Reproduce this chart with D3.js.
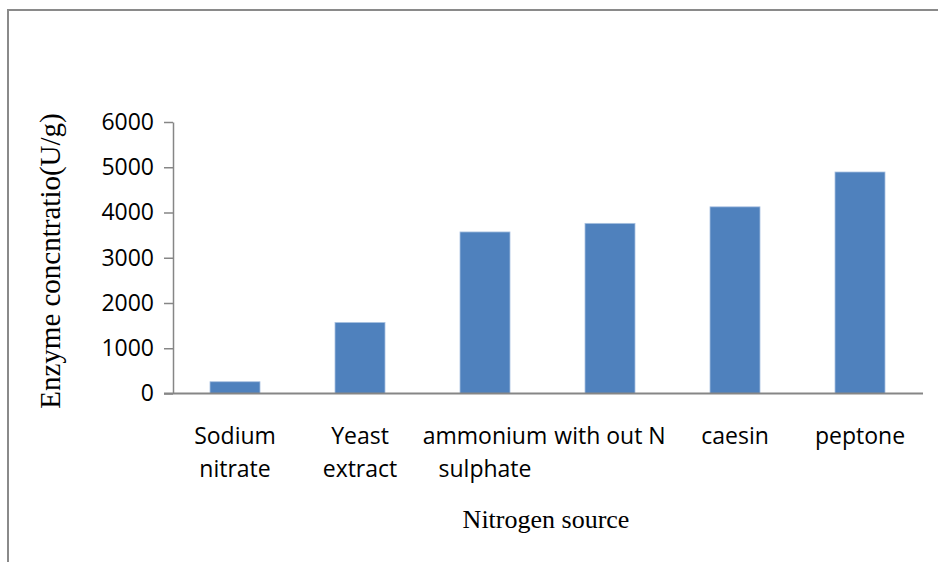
<!DOCTYPE html>
<html>
<head>
<meta charset="utf-8">
<script src="https://cdn.jsdelivr.net/npm/d3@7"></script>
<style>
  body { margin: 0; background: #fff; }
  svg { display: block; }
</style>
</head>
<body>
<svg id="chart" width="938" height="562"></svg>
<script>
// data
var categories = [['Sodium', 'nitrate'], ['Yeast', 'extract'], ['ammonium', 'sulphate'], ['with out N'], ['caesin'], ['peptone']];
var values = [260, 1570, 3570, 3760, 4125, 4895];
var yTicks = [0, 1000, 2000, 3000, 4000, 5000, 6000];

var svg = d3.select('#chart');

// outer frame (top and left edges visible)
svg.append('path')
  .attr('d', 'M8,562 V10 H938')
  .attr('fill', 'none')
  .attr('stroke', '#8a8a8a')
  .attr('stroke-width', 2);

var x = d3.scaleBand()
  .domain(d3.range(categories.length))
  .range([172.5, 922.5])
  .paddingInner(0.6)
  .paddingOuter(0.3);

var y = d3.scaleLinear()
  .domain([0, 6000])
  .range([393.5, 122]);

// y axis
var yAxis = svg.append('g')
  .attr('transform', 'translate(173,0)')
  .call(d3.axisLeft(y).tickValues(yTicks).tickFormat(d3.format('d'))
    .tickSize(9).tickPadding(10).tickSizeOuter(0));
yAxis.select('.domain').attr('stroke', '#868686').attr('stroke-width', 1.5);
yAxis.selectAll('.tick line').attr('stroke', '#868686').attr('stroke-width', 1.5);
yAxis.selectAll('.tick text')
  .attr('fill', '#000')
  .style('font-family', '"Open Sans", sans-serif')
  .style('font-size', '23px');

// bars
svg.selectAll('.bar')
  .data(values)
  .enter().append('rect')
  .attr('class', 'bar')
  .attr('x', function(d, i) { return x(i); })
  .attr('y', function(d) { return y(d); })
  .attr('width', x.bandwidth())
  .attr('height', function(d) { return y(0) - y(d); })
  .attr('fill', '#4f81bd')
  .attr('stroke', '#a9c1e0')
  .attr('stroke-width', 0.8);

// x axis line
svg.append('line')
  .attr('x1', 164).attr('x2', 923)
  .attr('y1', y(0)).attr('y2', y(0))
  .attr('stroke', '#868686')
  .attr('stroke-width', 2);

// category labels
var labels = svg.selectAll('.cat')
  .data(categories)
  .enter().append('text')
  .attr('class', 'cat')
  .attr('text-anchor', 'middle')
  .style('font-family', '"Open Sans", sans-serif')
  .style('font-size', '23px')
  .attr('fill', '#000');
labels.selectAll('tspan')
  .data(function(d, i) { return d.map(function(t) { return {t: t, i: i}; }); })
  .enter().append('tspan')
  .attr('x', function(d) { return x(d.i) + x.bandwidth() / 2; })
  .attr('y', function(d, j) { return 444 + j * 33; })
  .text(function(d) { return d.t; });

// axis titles
svg.append('text')
  .attr('x', 546).attr('y', 528)
  .attr('text-anchor', 'middle')
  .style('font-family', '"Liberation Serif", "Times New Roman", serif')
  .style('font-size', '26px')
  .text('Nitrogen source');

svg.append('text')
  .attr('transform', 'translate(60,261) rotate(-90)')
  .attr('text-anchor', 'middle')
  .style('font-family', '"Liberation Serif", "Times New Roman", serif')
  .style('font-size', '29px')
  .text('Enzyme concntratio(U/g)');
</script>
</body>
</html>
